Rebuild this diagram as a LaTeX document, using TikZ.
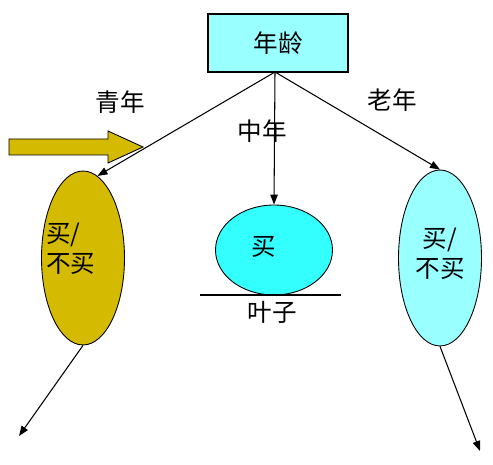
\documentclass[tikz,border=0pt]{standalone}
\usepackage{fontspec}
\setmainfont{Noto Sans CJK SC}
\usetikzlibrary{arrows.meta,shapes.geometric}
\definecolor{paleCyan}{RGB}{153,255,255}
\definecolor{brightCyan}{RGB}{51,255,255}
\definecolor{mustard}{RGB}{212,186,0}

\begin{document}
\begin{tikzpicture}[x=0.02cm,y=-0.02cm,
  font=\fontsize{14}{17}\selectfont,
  leaf/.style={ellipse,draw,line width=0.5pt,inner sep=0pt},
  link/.style={line width=0.6pt,-{Triangle[length=0.2cm,width=0.15cm]}}]
\useasboundingbox (0,0) rectangle (493,465);
% root
\node[draw,fill=paleCyan,line width=0.6pt,minimum width=2.8cm,minimum height=1.16cm] (age) at (278,43) {年龄};
\coordinate (fork) at (275,72);
% three branches
\node[leaf,fill=mustard,minimum width=1.66cm,minimum height=3.48cm] (young) at (83,258) {};
\node[anchor=west,align=left,inner sep=0pt] (youngtxt) at (46,249) {买/\\不买};
\node[leaf,fill=brightCyan,minimum width=2.34cm,minimum height=1.8cm] (mid) at (274,250) {};
\node (midtxt) at (264,247) {买};
\node[leaf,fill=paleCyan,minimum width=1.66cm,minimum height=3.52cm] (old) at (440,258) {};
\node[align=center,inner sep=0pt] (oldtxt) at (440,254) {买/\\不买};
\draw[link] (fork) -- (young.80);
\draw[link] (fork) -- (mid.north);
\draw[link] (fork) -- (old.north);
\node (lyoung) at (120,102) {青年};
\node (lmid) at (262,131) {中年};
\node (lold) at (392,100) {老年};
% leaf line
\draw[line width=1.1pt] (200,295) -- (341,295);
\node (leaf) at (272,312) {叶子};
% big arrow
\draw[fill=mustard,line width=0.5pt] (9,139) -- (108,139) -- (108,131) -- (143,147)
  -- (108,163) -- (108,155) -- (9,155) -- cycle;
% outgoing
\coordinate (ylow) at (19,436);
\coordinate (olow) at (480,451);
\draw[link] (young.south) -- (ylow);
\draw[link] (old.south) -- (olow);
\end{tikzpicture}
\end{document}
